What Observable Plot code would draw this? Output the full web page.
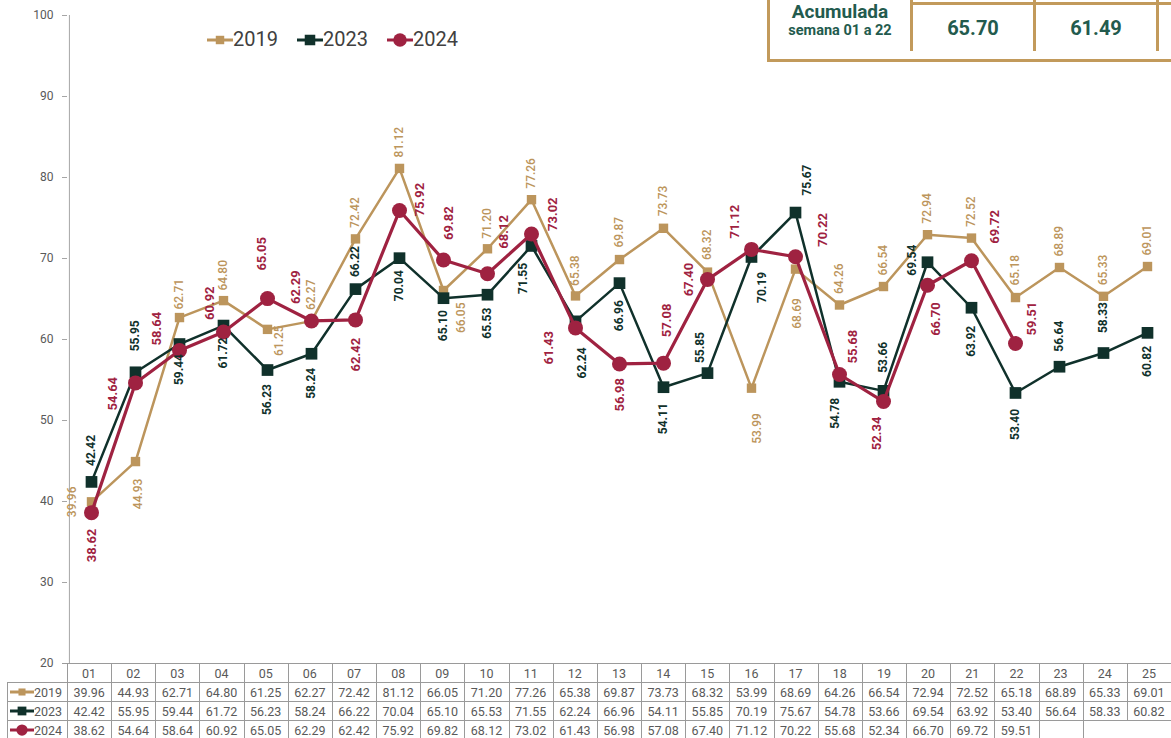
<!DOCTYPE html>
<html><head><meta charset="utf-8">
<script src="https://cdn.jsdelivr.net/npm/d3@7"></script>
<script src="https://cdn.jsdelivr.net/npm/@observablehq/plot@0.6"></script>
<style>
body{margin:0;background:#fff;font-family:Roboto,"Noto Sans",sans-serif;}
#wrap{position:relative;width:1171px;height:738px;overflow:hidden;background:#fff;}
#chart{position:absolute;left:0;top:0;}
.abs{position:absolute;box-sizing:border-box;}
.cell{position:absolute;box-sizing:border-box;text-align:center;font-size:12.5px;color:#595959;line-height:19px;}
</style></head><body><div id="wrap"><div id="chart"></div></div>
<script>
// ---------- data ----------
const weeks = ["01","02","03","04","05","06","07","08","09","10","11","12","13","14","15","16","17","18","19","20","21","22","23","24","25"];
const v2019 = [39.96,44.93,62.71,64.80,61.25,62.27,72.42,81.12,66.05,71.20,77.26,65.38,69.87,73.73,68.32,53.99,68.69,64.26,66.54,72.94,72.52,65.18,68.89,65.33,69.01];
const v2023 = [42.42,55.95,59.44,61.72,56.23,58.24,66.22,70.04,65.10,65.53,71.55,62.24,66.96,54.11,55.85,70.19,75.67,54.78,53.66,69.54,63.92,53.40,56.64,58.33,60.82];
const v2024 = [38.62,54.64,58.64,60.92,65.05,62.29,62.42,75.92,69.82,68.12,73.02,61.43,56.98,57.08,67.40,71.12,70.22,55.68,52.34,66.70,69.72,59.51];
const years = ["2019","2023","2024"];
const yTicks = [20,30,40,50,60,70,80,90,100];
const accumTitle = "Acumulada";
const accumSub = "semana 01 a 22";
const accumValues = ["65.70","61.49"];

// ---------- label placement (dx, dy, anchor) ----------
const place = {
 "2019": [[-19,0,"m"],[3,17,"e"],[0,-8,"s"],[0,-10,"s"],[12,-4,"e"],[0,-11,"s"],[0,-11,"s"],[0,-11,"s"],[18,12,"e"],[0,-10,"s"],[0,-11,"s"],[0,-10,"s"],[0,-12,"s"],[0,-12,"s"],[0,-12,"s"],[6,25,"e"],[2,29,"e"],[0,-11,"s"],[0,-11,"s"],[0,-11,"s"],[0,-11,"s"],[0,-12,"s"],[0,-11,"s"],[0,-11,"s"],[0,-11,"s"]],
 "2023": [[0,-16,"s"],[0,-21,"s"],[0,10,"e"],[0,12,"e"],[0,14,"e"],[0,14,"e"],[0,-12,"s"],[0,12,"e"],[0,12,"e"],[0,13,"e"],[-8,17,"e"],[7,26,"e"],[0,17,"e"],[0,16,"e"],[-7,-10,"s"],[11,15,"e"],[12,-17,"s"],[-4,16,"e"],[0,-18,"s"],[-15,-2,"m"],[0,18,"e"],[0,16,"e"],[0,-15,"s"],[0,-20,"s"],[0,13,"e"]],
 "2024": [[0,16,"e"],[-23,-6,"e"],[-23,-5,"s"],[-14,-12,"s"],[-6,-28,"s"],[-16,-17,"s"],[0,18,"e"],[20,-11,"m"],[5,-20,"s"],[16,-25,"s"],[21,-3,"s"],[-27,3,"e"],[0,14,"e"],[3,-26,"s"],[-19,0,"m"],[-17,-11,"s"],[27,-10,"s"],[13,-11,"s"],[-7,15,"e"],[8,17,"e"],[23,-17,"s"],[16,-8,"s"]]
};

const style = {
 "2019": {color:"#BC955C", symbol:"square", r:5.3, sw:2.5, fs:12, fw:500},
 "2023": {color:"#10312B", symbol:"square", r:6.6, sw:2.5, fs:12, fw:700},
 "2024": {color:"#9F2241", symbol:"circle", r:7.5, sw:3.2, fs:13, fw:700}
};
const valuesBy = {"2019": v2019, "2023": v2023, "2024": v2024};

const W = 1171, H = 665, ML = 67, MT = 15, MB = 2;
const step = (W - ML) / weeks.length;
const anchorMap = {s:"start", e:"end", m:"middle"};

const marks = [];
marks.push(Plot.ruleX([weeks[0]], {x: d => d, dx: -step/2, stroke:"#a6a6a6", strokeWidth:1}));
marks.push(Plot.axisY({ticks: yTicks, tickSize:5, tickPadding:9, fontSize:12, fill:"#595959", stroke:"#a6a6a6", label:null}));
for (const yr of years) {
  const s = style[yr];
  const data = valuesBy[yr].map((v,i) => ({week: weeks[i], value: v}));
  marks.push(Plot.line(data, {x:"week", y:"value", stroke:s.color, strokeWidth:s.sw}));
  marks.push(Plot.dot(data, {x:"week", y:"value", symbol:s.symbol, r:s.r, fill:s.color, stroke:"none"}));
}
for (const yr of years) {
  const s = style[yr];
  valuesBy[yr].forEach((v,i) => {
    const [dx, dy, a] = place[yr][i];
    marks.push(Plot.text([{week: weeks[i], value: v}], {
      x:"week", y:"value", text: d => d.value.toFixed(2), rotate:-90,
      textAnchor: anchorMap[a], dx, dy, fill: s.color, fontSize: s.fs, fontWeight: s.fw,
      fontFamily: "Roboto, sans-serif"
    }));
  });
}

const plot = Plot.plot({
  width: W, height: H, marginLeft: ML, marginRight: 0, marginTop: MT, marginBottom: MB,
  style: {fontFamily: "Roboto, sans-serif", background: "#fff", overflow: "visible"},
  x: {type:"point", domain: weeks, padding: 0.5, axis: null},
  y: {domain: [20, 100]},
  marks
});
document.getElementById("chart").appendChild(plot);

const wrap = document.getElementById("wrap");
function add(html, css, cls = "abs") {
  const d = document.createElement("div");
  d.className = cls; d.innerHTML = html; Object.assign(d.style, css); wrap.appendChild(d); return d;
}
function markerSvg(yr, w, h, lw, scale) {
  const s = style[yr];
  const cx = w/2, cy = h/2;
  let sym;
  if (s.symbol === "circle") sym = `<circle cx="${cx}" cy="${cy}" r="${s.r*scale}" fill="${s.color}"/>`;
  else { const side = s.r*1.772*scale; sym = `<rect x="${cx-side/2}" y="${cy-side/2}" width="${side}" height="${side}" fill="${s.color}"/>`; }
  return `<svg width="${w}" height="${h}" style="display:block"><line x1="0" x2="${w}" y1="${cy}" y2="${cy}" stroke="${s.color}" stroke-width="${lw}"/>${sym}</svg>`;
}

// ---------- legend ----------
const legendX = [207, 297, 387];
years.forEach((yr, k) => {
  add(markerSvg(yr, 26, 20, 3, 0.9), {left: legendX[k] + "px", top: "30px"});
  add(yr, {left: (legendX[k] + 26) + "px", top: "27px", fontSize: "20px", color: "#404040", lineHeight: "24px"});
});

// ---------- accumulated box ----------
const gold = "#C29A5B", boxText = "#235B4E";
add("", {left: "767px", top: "-40px", width: "500px", height: "102px", border: `3px solid ${gold}`});
add(accumTitle, {left: "772px", top: "2px", width: "136px", textAlign: "center", fontSize: "19px", fontWeight: "700", color: boxText, lineHeight: "20px"});
add(accumSub, {left: "772px", top: "23px", width: "136px", textAlign: "center", fontSize: "14.5px", fontWeight: "700", color: boxText, lineHeight: "16px"});
[910, 1033, 1156].forEach(x => add("", {left: x + "px", top: "-10px", width: "3px", height: "61px", background: gold}));
add("", {left: "910px", top: "2px", width: "300px", height: "3px", background: gold});
accumValues.forEach((v, k) => add(v, {left: (913 + k*123) + "px", top: "16px", width: "120px", textAlign: "center", fontSize: "20px", fontWeight: "700", color: boxText, lineHeight: "24px"}));

// ---------- data table ----------
const lineC = "#9a9a9a";
const rowTop = [663, 682, 701, 720, 739];
add("", {left: "62px", top: "663px", width: (W-62) + "px", height: "1px", background: lineC});
[682, 701, 720].forEach(y => add("", {left: "7px", top: y + "px", width: (W-7) + "px", height: "1px", background: lineC}));
add("", {left: "7px", top: "682px", width: "1px", height: "60px", background: lineC});
for (let i = 0; i <= weeks.length; i++) {
  const x = Math.round(ML + i*step);
  add("", {left: x + "px", top: "663px", width: "1px", height: "57px", background: lineC});
  const emptyInside = i === v2024.length + 2;
  if (!emptyInside) add("", {left: x + "px", top: "720px", width: "1px", height: "20px", background: lineC});
}
weeks.forEach((w, i) => add(w, {left: (ML + i*step) + "px", top: "664px", width: step + "px"}, "cell"));
years.forEach((yr, r) => {
  const top = rowTop[r+1] + 1;
  add(markerSvg(yr, 24, 18, 3, 0.75), {left: "10px", top: top + "px"});
  add(yr, {left: "34px", top: top + "px", width: "32px", textAlign: "left"}, "cell");
  valuesBy[yr].forEach((v, i) => add(v.toFixed(2), {left: (ML + i*step) + "px", top: top + "px", width: step + "px"}, "cell"));
});
</script></body></html>
